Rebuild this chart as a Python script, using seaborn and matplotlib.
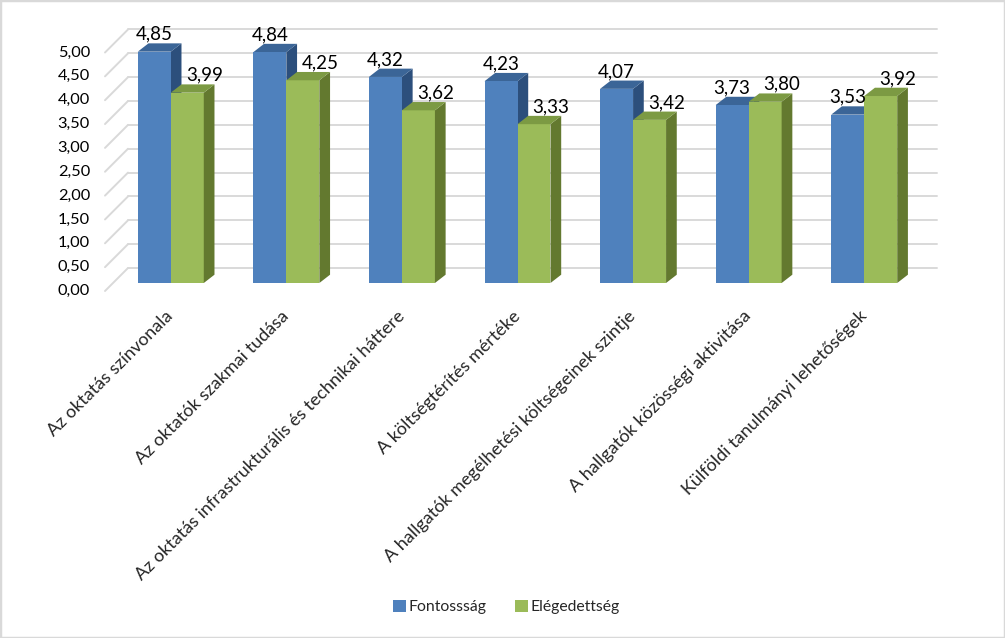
import pandas as pd
import matplotlib
matplotlib.use('Agg')
import matplotlib.pyplot as plt
import matplotlib.transforms as mtransforms
from matplotlib.patches import Polygon, Rectangle
import seaborn as sns

# chart data
categories = ['Az oktatás színvonala', 'Az oktatók szakmai tudása',
              'Az oktatás infrastrukturális és technikai háttere',
              'A költségtérítés mértéke',
              'A hallgatók megélhetési költségeinek szintje',
              'A hallgatók közösségi aktivitása',
              'Külföldi tanulmányi lehetőségek']
fontossag = [4.85, 4.84, 4.32, 4.23, 4.07, 3.73, 3.53]
elegedettseg = [3.99, 4.25, 3.62, 3.33, 3.42, 3.80, 3.92]
series_names = ['Fontossság', 'Elégedettség']
y_ticks = [0.0, 0.5, 1.0, 1.5, 2.0, 2.5, 3.0, 3.5, 4.0, 4.5, 5.0]

front_colors = ['#4F81BD', '#9BBB59']
top_colors = ['#3B6597', '#7C9A43']
side_colors = ['#2C4F7C', '#63792F']
grid_color = '#D9D9D9'

df = pd.DataFrame({
    'kategoria': categories * 2,
    'sorozat': [series_names[0]] * len(categories) + [series_names[1]] * len(categories),
    'ertek': fontossag + elegedettseg,
})

sns.set_theme(style='white')
plt.rcParams['font.family'] = ['Lato', 'DejaVu Sans']

DPI = 100
fig = plt.figure(figsize=(10.05, 6.38), dpi=DPI)
fig.patch.set_facecolor('white')
ax = fig.add_axes([113 / 1005, 1 - 283 / 638, 809 / 1005, 238.5 / 638])
ax.set_facecolor('none')

sns.barplot(data=df, x='kategoria', y='ertek', hue='sorozat',
            hue_order=series_names, palette=front_colors, saturation=1,
            width=0.571, linewidth=0, errorbar=None, ax=ax)
ax.set_xlim(-0.5, len(categories) - 0.5)
ax.set_ylim(0, 5)


def px(dx, dy):
    return mtransforms.ScaledTranslation(dx / DPI, dy / DPI, fig.dpi_scale_trans)


ident = mtransforms.IdentityTransform()

# back wall gridlines + slanted side wall lines
for v in y_ticks:
    ax.plot([0, 1], [v, v], transform=ax.get_yaxis_transform() + px(15, 15),
            color=grid_color, lw=1.4, zorder=0.5, clip_on=False)
    X, Y = ax.get_yaxis_transform().transform((0, v))
    ax.plot([X - 8, X + 15], [Y - 8, Y + 15], transform=ident,
            color=grid_color, lw=1.4, zorder=0.5, clip_on=False)
    ax.text(0, v, f'{v:.2f}'.replace('.', ','),
            transform=ax.get_yaxis_transform() + px(-23, -8),
            ha='right', va='center', fontsize=11.8, color='black')

# 3d faces on the bars
ddx, ddy = 10.7, 8.3
for k, cont in enumerate(ax.containers):
    zo = 0.95 if k == 0 else 1.05
    for bar in cont:
        x0 = bar.get_x()
        w = bar.get_width()
        h = bar.get_height()
        X0, Y0 = ax.transData.transform((x0, 0))
        X1, Y1 = ax.transData.transform((x0 + w, h))
        top = Polygon([(X0, Y1), (X1, Y1), (X1 + ddx, Y1 + ddy), (X0 + ddx, Y1 + ddy)],
                      closed=True, transform=ident, fc=top_colors[k], lw=0,
                      zorder=zo, clip_on=False)
        side = Polygon([(X1, Y0), (X1, Y1), (X1 + ddx, Y1 + ddy), (X1 + ddx, Y0 + ddy)],
                       closed=True, transform=ident, fc=side_colors[k], lw=0,
                       zorder=zo, clip_on=False)
        ax.add_artist(side)
        ax.add_artist(top)
        shift = 0 if k == 0 else 12.2
        ax.annotate(f'{h:.2f}'.replace('.', ','), xy=(x0 + w / 2, h),
                    xytext=(shift, 8.6), textcoords='offset points',
                    ha='center', va='baseline', fontsize=13.5, color='black',
                    annotation_clip=False)

ax.set_yticks([])
ax.set_xticks(range(len(categories)))
ax.set_xticklabels(categories, rotation=45, ha='right', va='center',
                   rotation_mode='anchor', fontsize=13)
ax.tick_params(axis='x', length=0, pad=22)
ax.set_xlabel('')
ax.set_ylabel('')
for s in ax.spines.values():
    s.set_visible(False)

sns.move_legend(ax, 'center', bbox_to_anchor=(0.504, 0.049),
                bbox_transform=fig.transFigure, ncol=2, frameon=False,
                title=None, fontsize=11.3, handlelength=0.8, handleheight=0.8,
                handletextpad=0.2, columnspacing=1.8)

fig.patches.append(Rectangle((0, 0), 1, 1, transform=fig.transFigure,
                             fill=False, ec=grid_color, lw=2.5))

fig.savefig('out.png', dpi=DPI, facecolor='white')
